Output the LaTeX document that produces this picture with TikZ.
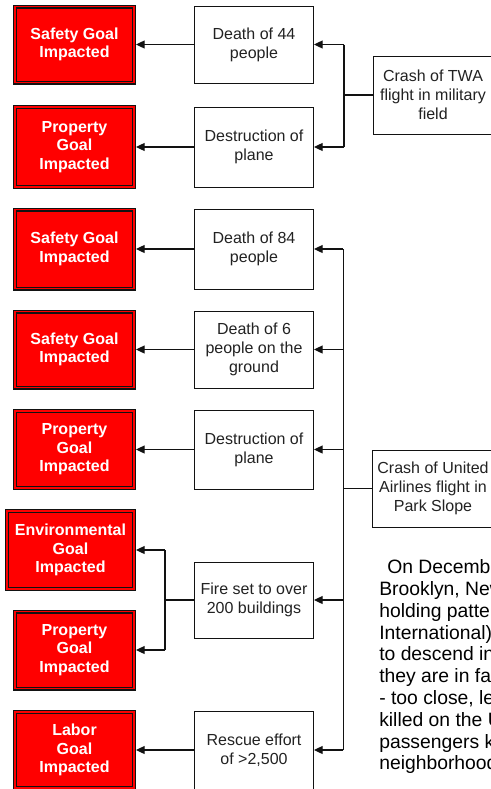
\documentclass[tikz,border=0pt]{standalone}
\usepackage{fontspec}
\setmainfont{Liberation Sans}
\usepackage{xcolor}
\usetikzlibrary{arrows.meta,positioning}
\definecolor{alarm}{RGB}{255,0,0}
\definecolor{ink}{RGB}{18,18,18}
\definecolor{txt}{RGB}{34,34,34}

\begin{document}
\begin{tikzpicture}[
    x=0.75pt, y=-0.75pt,
    node distance=43.5pt,
    goal/.style={draw=ink, double=alarm, double distance=0.8pt, line width=1.1pt, fill=alarm,
                 minimum width=89.25pt, minimum height=57pt, align=center, text=white,
                 font=\fontsize{12}{13.8}\selectfont\bfseries, outer sep=1.5pt},
    effect/.style={draw=ink, fill=white, line width=0.75pt, minimum width=89.25pt,
                   minimum height=58.5pt, align=center, text=txt,
                   font=\fontsize{12}{14.25}\selectfont},
    story/.style={inner sep=0pt, align=left, text=black, font=\fontsize{14.5}{16.35}\selectfont},
    link/.style={draw=ink, line width=0.9pt},
    arr/.style={link, -{Triangle[length=6.5pt,width=6pt]}}
]
\useasboundingbox (0,0) rectangle (491,789);
\clip (0,0) rectangle (491,789);

% crash events
\node[effect] (twa) at (433,95) {Crash of TWA\\flight in military\\field};
\node[effect, minimum height=57.75pt] (united) at (433,488.5) {Crash of United\\Airlines flight in\\Park Slope};

% consequences
\node[effect, minimum height=57.75pt] (w1) at (254,44.5) {Death of 44\\people};
\node[effect, minimum height=60pt] (w2) at (254,147) {Destruction of\\plane};
\node[effect, minimum height=60pt] (w3) at (254,249) {Death of 84\\people};
\node[effect, minimum height=57.75pt] (w4) at (254,349.5) {Death of 6\\people on the\\ground};
\node[effect, minimum height=59.25pt] (w5) at (254,449.5) {Destruction of\\plane};
\node[effect, minimum height=57pt] (w6) at (254,600) {Fire set to over\\200 buildings};
\node[effect] (w7) at (254,750) {Rescue effort\\of >2,500};

% goals
\node[goal, left=of w1] (r1) {Safety Goal\\Impacted};
\node[goal, left=of w2, minimum height=60pt] (r2) {Property\\Goal\\Impacted};
\node[goal, left=of w3, minimum height=59.25pt] (r3) {Safety Goal\\Impacted};
\node[goal, left=of w4] (r4) {Safety Goal\\Impacted};
\node[goal, left=of w5, minimum height=57.75pt] (r5) {Property\\Goal\\Impacted};
\node[goal, left=of w6, yshift=37.5pt, minimum width=95.25pt, minimum height=58.5pt] (r6) {Environmental\\Goal\\Impacted};
\node[goal, left=of w6, yshift=-37.5pt, minimum height=57.75pt] (r7) {Property\\Goal\\Impacted};
\node[goal, left=of w7] (r8) {Labor\\Goal\\Impacted};

% buses
\coordinate[left=21.75pt of twa.west] (tbus);
\coordinate[left=21.75pt of united.west] (ubus);
\coordinate[left=21.75pt of w6.west] (fbus);

\draw[link] (twa.west) -- (tbus) (tbus |- w1.east) -- (tbus |- w2.east);
\draw[arr] (tbus |- w1.east) -- (w1.east);
\draw[arr] (tbus |- w2.east) -- (w2.east);

\draw[link] (united.west) -- (ubus) (ubus |- w3.east) -- (ubus |- w7.east);
\foreach \w in {w3,w4,w5,w6,w7}
  \draw[arr] (ubus |- \w.east) -- (\w.east);

\draw[link] (w6.west) -- (fbus) (fbus |- r6.east) -- (fbus |- r7.east);
\draw[arr] (fbus |- r6.east) -- (r6.east);
\draw[arr] (fbus |- r7.east) -- (r7.east);

\draw[arr] (w1.west) -- (r1.east);
\draw[arr] (w2.west) -- (r2.east);
\draw[arr] (w3.west) -- (r3.east);
\draw[arr] (w4.west) -- (r4.east);
\draw[arr] (w5.west) -- (r5.east);
\draw[arr] (w7.west) -- (r8.east);

% description, cut off at the right edge
\node[story, anchor=north west] (desc) at (379,559.5)
  {\hspace{6pt}On December\\Brooklyn, New\\holding pattern\\International)\\to descend in\\they are in fact\\- too close, le\\killed on the U\\passengers ki\\neighborhood};
\end{tikzpicture}
\end{document}
